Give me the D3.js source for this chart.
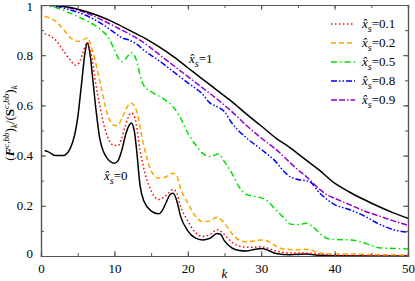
<!DOCTYPE html>
<html>
<head>
<meta charset="utf-8">
<script src="https://cdn.jsdelivr.net/npm/d3@7"></script>
<style>
  body { margin: 0; background: #fff; }
  svg text { font-family: "Liberation Serif", "Times New Roman", serif; }
</style>
</head>
<body>
<div id="chart"></div>
<script>
// k values and curve values for each x_s
const k0 = [0.5,1,2,3,4,5,5.5,6,6.3,6.7,7,7.5,8,9,10,10.5,11,11.5,12,12.3,12.7,13,13.5,14,15,16,16.5,17,17.6,18,18.5,19,20,21,22,23,24,24.5,25,26,27,28,29,30,31,32,34,36,38,40,45,50];
const v0 = [0.42,0.415,0.40,0.40,0.43,0.55,0.68,0.81,0.85,0.80,0.72,0.58,0.47,0.39,0.37,0.38,0.42,0.48,0.52,0.53,0.50,0.43,0.28,0.22,0.18,0.168,0.18,0.21,0.245,0.25,0.22,0.16,0.10,0.072,0.064,0.07,0.09,0.085,0.06,0.032,0.022,0.02,0.026,0.03,0.022,0.01,0.005,0.008,0.003,0.001,0,0];

const k01 = [0.5,1,2,3,4,4.7,5.2,5.7,6.3,6.8,7.5,8,9,10,10.5,11,11.5,12.3,12.8,13.5,14,15,16,17,18,18.5,19,20,21,22,23,24,25,26,27,28,29,30,31,32,34,36,38,40,45,50];
const v01 = [0.885,0.88,0.86,0.82,0.78,0.76,0.77,0.81,0.85,0.81,0.68,0.60,0.48,0.44,0.44,0.47,0.52,0.57,0.55,0.42,0.35,0.26,0.225,0.24,0.265,0.25,0.2,0.14,0.095,0.078,0.085,0.105,0.085,0.055,0.04,0.035,0.035,0.037,0.03,0.02,0.012,0.012,0.008,0.004,0.001,0];

const k02 = [0.5,1,2,3,4,5,5.7,6.3,7,8,9,10,10.5,11,12.3,13,14,15,16,17,18,18.5,19,20,21,22,23,24,25,26,27,28,29,30,31,32,33,35,36,37,38,40,42,45,50];
const v02 = [0.955,0.95,0.935,0.905,0.87,0.855,0.86,0.87,0.82,0.70,0.57,0.52,0.52,0.55,0.61,0.58,0.44,0.34,0.31,0.315,0.33,0.32,0.27,0.21,0.16,0.137,0.14,0.154,0.13,0.09,0.063,0.056,0.06,0.064,0.058,0.04,0.028,0.025,0.027,0.022,0.012,0.008,0.008,0.006,0.004];

const k05 = [0,2,4,6,8,9.4,10,11,11.5,12.3,13,13.5,14,15,16.2,17,18,19,20,21,22,23,24.2,25,26,27,28,29.4,30.7,32,33,34,35,36.2,37,38,39,40,42,43.5,45,46,48,50];
const v05 = [1.0,0.99,0.967,0.94,0.905,0.86,0.82,0.775,0.785,0.81,0.78,0.72,0.68,0.655,0.635,0.62,0.595,0.55,0.49,0.445,0.41,0.396,0.406,0.375,0.33,0.275,0.245,0.236,0.223,0.183,0.155,0.127,0.125,0.13,0.117,0.09,0.07,0.066,0.064,0.057,0.042,0.033,0.03,0.028];

const k08 = [0,2,4,6,8,10,11,12,13,14,16,18,20,22,23,24,25,26,28,30,32,33,34,35,36.6,38,39.4,40,42,44,46,48,50];
const v08 = [1.0,0.995,0.98,0.96,0.93,0.89,0.87,0.86,0.845,0.82,0.78,0.735,0.69,0.645,0.61,0.595,0.575,0.53,0.47,0.425,0.375,0.34,0.315,0.305,0.296,0.25,0.216,0.205,0.185,0.16,0.128,0.105,0.095];

const k09 = [0,2,4,6,8,10,12,14,16,18,20,22,24,26,28,30,32,34,35.3,36,38,39,40,42,44,46,48,50];
const v09 = [1.0,0.998,0.988,0.97,0.945,0.915,0.885,0.85,0.805,0.76,0.715,0.67,0.625,0.575,0.52,0.47,0.425,0.37,0.336,0.32,0.265,0.243,0.23,0.205,0.18,0.16,0.14,0.122];

const k1 = [0,2,4,6,8,10,12,14,16,18,20,22,24,26,28,30,32,34,36,38,40,42,44,46,48,50];
const v1 = [1.0,0.998,0.99,0.975,0.955,0.93,0.90,0.87,0.835,0.795,0.75,0.705,0.66,0.615,0.565,0.518,0.47,0.43,0.385,0.34,0.29,0.255,0.225,0.197,0.172,0.15];

const xTicks = [0,10,20,30,40,50];
const yTicks = [0,0.2,0.4,0.6,0.8,1];
const legendLabels = ["0.1","0.2","0.5","0.8","0.9"];

const series = [
  {k: k0, v: v0, color: "#000", dash: null, w: 1.5},
  {k: k01, v: v01, color: "#ff0000", dash: "1.5,2.5", w: 1.5},
  {k: k02, v: v02, color: "#ffa500", dash: "5,3", w: 1.5},
  {k: k05, v: v05, color: "#00e000", dash: "6,3,1.5,3", w: 1.5},
  {k: k08, v: v08, color: "#0000ff", dash: "6,2,1.5,2,1.5,2", w: 1.5},
  {k: k09, v: v09, color: "#9400d3", dash: "6,2,6,2,1.5,2", w: 1.5},
  {k: k1, v: v1, color: "#000", dash: null, w: 1.5}
];

const W = 415, H = 281;
const margin = {top: 5, right: 7, bottom: 25, left: 41};
const width = W - margin.left - margin.right;
const height = H - margin.top - margin.bottom;
const serif = '"Liberation Serif", "Times New Roman", serif';

const svg = d3.select("#chart").append("svg")
    .attr("width", W)
    .attr("height", H);

const g = svg.append("g")
    .attr("transform", `translate(${margin.left},${margin.top})`);

const x = d3.scaleLinear().domain([0, 50]).range([0, width]);
const y = d3.scaleLinear().domain([0, 1]).range([height, 0]);

// clip to plot area
svg.append("defs").append("clipPath").attr("id", "clip")
  .append("rect").attr("width", width).attr("height", height);

const line = d3.line()
    .x(d => x(d[0]))
    .y(d => y(d[1]))
    .curve(d3.curveMonotoneX);

const plot = g.append("g").attr("clip-path", "url(#clip)");
series.forEach(s => {
  plot.append("path")
    .datum(s.k.map((kk, i) => [kk, s.v[i]]))
    .attr("fill", "none")
    .attr("stroke", s.color)
    .attr("stroke-width", s.w)
    .attr("stroke-dasharray", s.dash)
    .attr("d", line);
});

// axes with inward ticks on all four sides
const axisColor = "#555";
const minorX = d3.range(0, 51, 5);
const minorY = d3.range(0, 1.001, 0.1);

function drawAxis(axis, transform, showLabels) {
  const a = g.append("g").attr("transform", transform).call(axis)
    .attr("font-family", serif)
    .attr("font-size", 13);
  a.select(".domain").attr("stroke", axisColor).attr("stroke-width", 1.2);
  a.selectAll(".tick line").attr("stroke", axisColor).attr("stroke-width", 1);
  a.selectAll(".tick text").attr("fill", "#000");
  if (!showLabels) a.selectAll(".tick text").remove();
  return a;
}

// minor ticks
drawAxis(d3.axisBottom(x).tickValues(minorX).tickSize(-3).tickFormat(""), `translate(0,${height})`, false);
drawAxis(d3.axisTop(x).tickValues(minorX).tickSize(-3).tickFormat(""), "translate(0,0)", false);
drawAxis(d3.axisLeft(y).tickValues(minorY).tickSize(-3).tickFormat(""), "translate(0,0)", false);
drawAxis(d3.axisRight(y).tickValues(minorY).tickSize(-3).tickFormat(""), `translate(${width},0)`, false);

// major ticks
drawAxis(d3.axisBottom(x).tickValues(xTicks).tickSize(-5).tickPadding(8).tickFormat(d3.format("d")), `translate(0,${height})`, true);
drawAxis(d3.axisTop(x).tickValues(xTicks).tickSize(-5).tickFormat(""), "translate(0,0)", false);
const yAx = drawAxis(d3.axisLeft(y).tickValues(yTicks).tickSize(-5).tickPadding(8).tickFormat(d => d === 0 || d === 1 ? d3.format("d")(d) : d3.format(".1f")(d)), "translate(0,0)", true);
yAx.selectAll(".tick text").filter(d => d === 1).attr("dy", "0.45em");
yAx.selectAll(".tick text").filter(d => d === 0).attr("dy", "0.15em");
drawAxis(d3.axisRight(y).tickValues(yTicks).tickSize(-5).tickFormat(""), `translate(${width},0)`, false);

// x-hat with subscript s, then "=value"
function xhat(sel, px, py, rest) {
  const t = sel.append("text")
    .attr("x", px).attr("y", py)
    .style("font-size", "13px");
  t.append("tspan").style("font-style", "italic").text("x\u0302");
  t.append("tspan").attr("dy", 4).style("font-style", "italic").style("font-size", "10px").text("s");
  t.append("tspan").attr("dy", -4).text(rest);
  return t;
}

// legend
const leg = svg.append("g");
legendLabels.forEach((lab, i) => {
  const s = series[i + 1];
  const ly = 24 + i * 19;
  leg.append("line")
    .attr("x1", 331).attr("x2", 355)
    .attr("y1", ly).attr("y2", ly)
    .attr("stroke", s.color)
    .attr("stroke-width", 1.5)
    .attr("stroke-dasharray", s.dash);
  xhat(leg, 362, ly + 4, "=" + lab);
});

// curve annotations
xhat(svg, 189, 63, "=1");
xhat(svg, 104, 180, "=0");

// axis titles
svg.append("text")
  .attr("x", margin.left + x(25))
  .attr("y", 278)
  .attr("text-anchor", "middle")
  .style("font-size", "13px")
  .style("font-style", "italic")
  .text("k");

const yl = svg.append("text")
  .attr("transform", `translate(14,123) rotate(-90)`)
  .attr("text-anchor", "middle")
  .style("font-size", "13px");
yl.append("tspan").text("(");
yl.append("tspan").style("font-weight", "bold").style("font-style", "italic").text("F");
yl.append("tspan").attr("dy", -5).style("font-size", "9px").style("font-style", "italic").text("c,bb");
yl.append("tspan").attr("dy", 5).text(")");
yl.append("tspan").attr("dy", 3).style("font-size", "9px").style("font-style", "italic").text("k");
yl.append("tspan").attr("dy", -3).text("/(");
yl.append("tspan").style("font-weight", "bold").text("S");
yl.append("tspan").attr("dy", -5).style("font-size", "9px").style("font-style", "italic").text("c,bb");
yl.append("tspan").attr("dy", 5).text(")");
yl.append("tspan").attr("dy", 3).style("font-size", "9px").style("font-style", "italic").text("k");
</script>
</body>
</html>
